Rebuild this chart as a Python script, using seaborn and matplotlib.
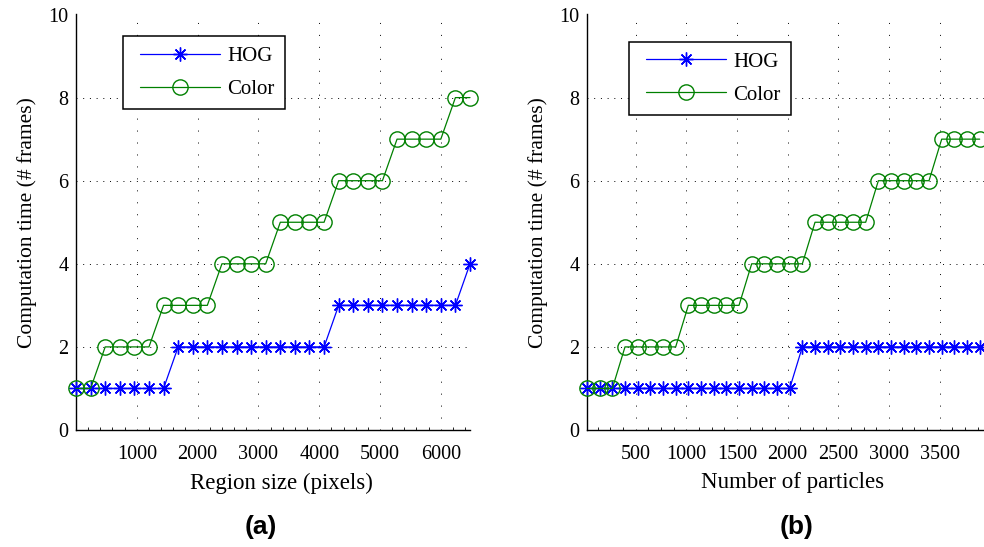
import numpy as np
import pandas as pd
import matplotlib
matplotlib.use("Agg")
import matplotlib.pyplot as plt
from matplotlib.ticker import MultipleLocator, FixedLocator
from matplotlib.legend_handler import HandlerLine2D
from matplotlib.lines import Line2D
import seaborn as sns

# ---------------- data ----------------
region_size = [0, 240, 480, 720, 960, 1200, 1440, 1680, 1920, 2160, 2400, 2640, 2880, 3120,
               3360, 3600, 3840, 4080, 4320, 4560, 4800, 5040, 5280, 5520, 5760, 6000, 6240, 6480]
hog_a = [1, 1, 1, 1, 1, 1, 1, 2, 2, 2, 2, 2, 2, 2, 2, 2, 2, 2, 3, 3, 3, 3, 3, 3, 3, 3, 3, 4]
color_a = [1, 1, 2, 2, 2, 2, 3, 3, 3, 3, 4, 4, 4, 4, 5, 5, 5, 5, 6, 6, 6, 6, 7, 7, 7, 7, 8, 8]

particles = [20, 145, 270, 395, 520, 645, 770, 895, 1020, 1145, 1270, 1395, 1520, 1645, 1770, 1895,
             2020, 2145, 2270, 2395, 2520, 2645, 2770, 2895, 3020, 3145, 3270, 3395, 3520, 3645,
             3770, 3895]
hog_b = [1, 1, 1, 1, 1, 1, 1, 1, 1, 1, 1, 1, 1, 1, 1, 1, 1,
         2, 2, 2, 2, 2, 2, 2, 2, 2, 2, 2, 2, 2, 2, 2]
color_b = [1, 1, 1, 2, 2, 2, 2, 2, 3, 3, 3, 3, 3, 4, 4, 4, 4, 4, 5, 5, 5, 5, 5,
           6, 6, 6, 6, 6, 7, 7, 7, 7]

series_names = ["HOG", "Color"]
xticks_a = [1000, 2000, 3000, 4000, 5000, 6000]
xticks_b = [500, 1000, 1500, 2000, 2500, 3000, 3500]
yticks = [0, 2, 4, 6, 8, 10]

# ---------------- style ----------------
sns.set_style("white")
plt.rcParams["font.family"] = ["Liberation Serif", "DejaVu Serif"]
plt.rcParams["text.color"] = "black"
plt.rcParams["axes.labelcolor"] = "black"
plt.rcParams["xtick.color"] = "black"
plt.rcParams["ytick.color"] = "black"

BLUE = "#0000ff"
GREEN = "#008000"
ASTERISK = (8, 2, 0)
LEG_FS = 15


class ShiftedLine(HandlerLine2D):
    """Legend line that starts a little to the right (extra left padding)."""
    def __init__(self, shift, **kw):
        super().__init__(**kw)
        self.shift = shift

    def create_artists(self, legend, orig_handle, xdescent, ydescent, width,
                       height, fontsize, trans):
        arts = super().create_artists(legend, orig_handle, xdescent, ydescent,
                                      width, height, fontsize, trans)
        for a in arts:
            x = np.asarray(a.get_xdata(), dtype=float)
            if len(x) >= 2:
                a.set_xdata(np.linspace(x[0] + self.shift, x[-1], len(x)))
        return arts


W, H = 984, 547
fig = plt.figure(figsize=(W / 100, H / 100), dpi=100)

y0 = (H - 430) / H
y1 = (H - 14.5) / H
ax_a = fig.add_axes([76 / W, y0, 394 / W, y1 - y0])
ax_b = fig.add_axes([587 / W, y0, 411 / W, y1 - y0])


def draw(ax, x, hog, col, xlim, xticks, minor, xlabel, label_x, legend_anchor):
    df_h = pd.DataFrame({"x": x, "y": hog})
    df_c = pd.DataFrame({"x": x, "y": col})
    sns.lineplot(data=df_h, x="x", y="y", ax=ax, color=BLUE, lw=0.9,
                 marker=ASTERISK, markersize=10, markeredgecolor=BLUE,
                 markeredgewidth=1.0, label=series_names[0], clip_on=False, zorder=3)
    sns.lineplot(data=df_c, x="x", y="y", ax=ax, color=GREEN, lw=0.9,
                 marker="o", markersize=11, markerfacecolor="none",
                 markeredgecolor=GREEN, markeredgewidth=1.0,
                 label=series_names[1], clip_on=False, zorder=3)
    ax.set_xlim(*xlim)
    ax.set_ylim(0, 10)
    ax.xaxis.set_major_locator(FixedLocator(xticks))
    ax.xaxis.set_minor_locator(MultipleLocator(minor))
    ax.yaxis.set_major_locator(FixedLocator(yticks))
    ax.tick_params(axis="both", which="major", direction="in", length=5,
                   width=0.8, labelsize=14.5, color="black", labelcolor="black")
    ax.tick_params(axis="x", which="minor", direction="in", length=2.5,
                   width=0.6, color="black", bottom=True)
    ax.tick_params(axis="x", which="major", pad=11)
    ax.tick_params(axis="y", which="major", pad=5.5)
    for s in ["top", "right"]:
        ax.spines[s].set_visible(False)
    for s in ["left", "bottom"]:
        ax.spines[s].set_color("black")
        ax.spines[s].set_linewidth(1.0)
    # vertical grid lines (x) have sparser dots than horizontal ones (y)
    ax.xaxis.grid(True, which="major", color="black", linestyle=(0, (1, 11.3)),
                  linewidth=0.7)
    ax.yaxis.grid(True, which="major", color="black", linestyle=(0, (1, 5.9)),
                  linewidth=0.7)
    ax.set_axisbelow(True)
    ax.set_xlabel(xlabel, fontsize=16.5, color="black")
    ax.xaxis.set_label_coords(label_x, -0.102)
    ax.set_ylabel("Computation time (# frames)", fontsize=15.5, labelpad=8,
                  color="black")
    handles, labels = ax.get_legend_handles_labels()
    leg = ax.legend(handles, labels, loc="upper left", bbox_to_anchor=legend_anchor,
                    bbox_transform=fig.transFigure, fontsize=LEG_FS,
                    frameon=True, fancybox=False, edgecolor="black",
                    framealpha=1, handlelength=4.14, handletextpad=0.38,
                    borderpad=0.5, labelspacing=0.64, borderaxespad=0,
                    handler_map={Line2D: ShiftedLine(4.75)})
    leg.get_frame().set_linewidth(1.1)
    for t in leg.get_texts():
        t.set_color("black")


draw(ax_a, region_size, hog_a, color_a, (0, 6480), xticks_a, 200,
     "Region size (pixels)", (281 - 76) / 394, (123 / W, 1 - 36 / H))
draw(ax_b, particles, hog_b, color_b, (20, 20 + 411 / 0.10134), xticks_b, 125,
     "Number of particles", (792.5 - 587) / 411, (629 / W, 1 - 41.7 / H))

fig.text(261 / W, 1 - 527 / H, "(a)", ha="center", va="center", color="black",
         fontsize=19, fontweight="bold", family=["Liberation Sans", "DejaVu Sans"])
fig.text(797 / W, 1 - 527 / H, "(b)", ha="center", va="center", color="black",
         fontsize=19, fontweight="bold", family=["Liberation Sans", "DejaVu Sans"])

fig.savefig("out.png", dpi=100)
